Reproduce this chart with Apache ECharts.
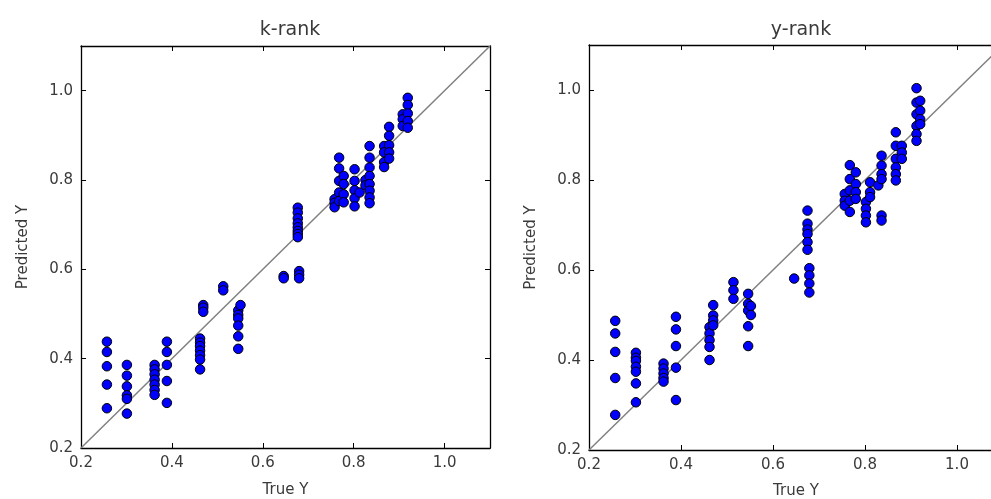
<!DOCTYPE html>
<html lang="en">
<head>
    <meta charset="UTF-8">
    <title>k-rank / y-rank</title>
    <script src="https://cdn.jsdelivr.net/npm/echarts@6/dist/echarts.min.js"></script>
</head>
<body style="margin:0;background:#fff;overflow:hidden;">
<!-- the right panel runs past the window edge, so the chart box is wider than the page -->
<div id="main" style="width: 1010px;height:499px;"></div>
<script type="text/javascript">
// axis range and tick labels (same for both panels)
var axisMin = 0.2, axisMax = 1.1, tickStep = 0.2;
var diagLine = [0.2, 1.1];

// k-rank: true Y of each column and predicted Y values in it
var kTrue = [0.257, 0.301, 0.362, 0.389, 0.462, 0.469, 0.513, 0.546, 0.551, 0.646, 0.677, 0.680,
             0.758, 0.768, 0.778, 0.802, 0.813, 0.826, 0.835, 0.867, 0.878, 0.908, 0.919];
var kPred = [
    [0.438, 0.415, 0.383, 0.342, 0.289],
    [0.386, 0.362, 0.338, 0.318, 0.310, 0.277],
    [0.386, 0.376, 0.365, 0.353, 0.342, 0.330, 0.319],
    [0.438, 0.415, 0.386, 0.350, 0.301],
    [0.445, 0.436, 0.428, 0.418, 0.408, 0.398, 0.376],
    [0.520, 0.514, 0.505],
    [0.562, 0.553],
    [0.508, 0.498, 0.490, 0.474, 0.450, 0.422],
    [0.520],
    [0.585, 0.580],
    [0.738, 0.727, 0.714, 0.703, 0.694, 0.686, 0.679, 0.672],
    [0.596, 0.588, 0.580],
    [0.757, 0.749, 0.739],
    [0.850, 0.826, 0.798, 0.772, 0.753],
    [0.809, 0.791, 0.768, 0.750],
    [0.824, 0.798, 0.777, 0.759, 0.741],
    [0.772],
    [0.800, 0.788],
    [0.876, 0.850, 0.828, 0.809, 0.791, 0.776, 0.761, 0.748],
    [0.876, 0.862, 0.840, 0.829],
    [0.919, 0.899, 0.878, 0.862, 0.848],
    [0.947, 0.936, 0.921],
    [0.984, 0.968, 0.949, 0.932, 0.917]
];

// y-rank
var yTrue = [0.257, 0.302, 0.362, 0.389, 0.462, 0.470, 0.514, 0.546, 0.552, 0.646, 0.675, 0.679,
             0.756, 0.767, 0.780, 0.802, 0.811, 0.829, 0.836, 0.867, 0.880, 0.912, 0.920];
var yPred = [
    [0.487, 0.459, 0.418, 0.360, 0.278],
    [0.416, 0.405, 0.398, 0.385, 0.374, 0.348, 0.306],
    [0.392, 0.381, 0.370, 0.360, 0.352],
    [0.496, 0.468, 0.431, 0.383, 0.311],
    [0.473, 0.459, 0.444, 0.429, 0.400],
    [0.522, 0.499, 0.488, 0.477],
    [0.573, 0.555, 0.536],
    [0.547, 0.525, 0.510, 0.475, 0.431],
    [0.520, 0.500],
    [0.581],
    [0.732, 0.703, 0.690, 0.680, 0.662, 0.645],
    [0.604, 0.588, 0.570, 0.550],
    [0.769, 0.754, 0.743],
    [0.833, 0.802, 0.777, 0.754, 0.729],
    [0.817, 0.791, 0.773, 0.758],
    [0.751, 0.736, 0.721, 0.706],
    [0.795, 0.773, 0.762],
    [0.788],
    [0.854, 0.832, 0.813, 0.802, 0.721, 0.710],
    [0.906, 0.876, 0.847, 0.828, 0.813, 0.799],
    [0.876, 0.861, 0.847],
    [1.004, 0.972, 0.946, 0.920, 0.902, 0.887],
    [0.976, 0.954, 0.935, 0.924]
];

function toPoints(xs, cols) {
    var pts = [];
    for (var i = 0; i < xs.length; i++) {
        for (var j = 0; j < cols[i].length; j++) {
            pts.push([xs[i], cols[i][j]]);
        }
    }
    return pts;
}

var font = 'DejaVu Sans';
var textColor = '#3a3a3a';

function mainAxis(gridIndex, pos, name, nameGap) {
    return {
        type: 'value', gridIndex: gridIndex, position: pos,
        min: axisMin, max: axisMax, interval: tickStep,
        name: name, nameLocation: 'middle', nameGap: nameGap,
        nameTextStyle: {fontFamily: font, fontSize: 15, color: textColor},
        axisLine: {show: true, onZero: false, lineStyle: {color: '#000', width: 1.3}},
        axisTick: {show: true, inside: true, length: 5, lineStyle: {color: '#000'}},
        axisLabel: {
            fontFamily: font, fontSize: 15, color: textColor, margin: 8,
            showMaxLabel: false,
            formatter: function (v) { return v.toFixed(1); }
        },
        splitLine: {show: false}
    };
}
function sideAxis(gridIndex, pos) {
    return {
        type: 'value', gridIndex: gridIndex, position: pos,
        min: axisMin, max: axisMax, interval: tickStep,
        axisLine: {show: true, onZero: false, lineStyle: {color: '#000', width: 1.3}},
        axisTick: {show: true, inside: true, length: 5, lineStyle: {color: '#000'}},
        axisLabel: {show: false},
        splitLine: {show: false}
    };
}

function scatter(xi, yi, data) {
    return {
        type: 'scatter', xAxisIndex: xi, yAxisIndex: yi, data: data,
        symbolSize: 9.5, z: 3,
        itemStyle: {color: '#0000ff', borderColor: '#000', borderWidth: 1, opacity: 1}
    };
}
function diagonal(xi, yi) {
    return {
        type: 'line', xAxisIndex: xi, yAxisIndex: yi,
        data: [[diagLine[0], diagLine[0]], [diagLine[1], diagLine[1]]],
        symbol: 'none', silent: true, z: 2,
        lineStyle: {color: '#808080', width: 1.5}
    };
}

var myChart = echarts.init(document.getElementById('main'));

var option = {
    animation: false,
    backgroundColor: '#fff',
    title: [
        {text: 'k-rank', left: 285, top: 16, textAlign: 'center',
         textStyle: {fontFamily: font, fontSize: 19, fontWeight: 'normal', color: textColor}},
        {text: 'y-rank', left: 796, top: 16, textAlign: 'center',
         textStyle: {fontFamily: font, fontSize: 19, fontWeight: 'normal', color: textColor}}
    ],
    grid: [
        {left: 81, top: 46, width: 409, height: 402, outerBoundsMode: 'none'},
        {left: 589, top: 45, width: 414, height: 405, outerBoundsMode: 'none'}
    ],
    xAxis: [
        mainAxis(0, 'bottom', 'True Y', 35),
        sideAxis(0, 'top'),
        mainAxis(1, 'bottom', 'True Y', 34),
        sideAxis(1, 'top')
    ],
    yAxis: [
        mainAxis(0, 'left', 'Predicted Y', 50),
        sideAxis(0, 'right'),
        mainAxis(1, 'left', 'Predicted Y', 50),
        sideAxis(1, 'right')
    ],
    series: [
        diagonal(0, 0),
        scatter(0, 0, toPoints(kTrue, kPred)),
        diagonal(2, 2),
        scatter(2, 2, toPoints(yTrue, yPred))
    ]
};

myChart.setOption(option);
</script>
</body>
</html>
